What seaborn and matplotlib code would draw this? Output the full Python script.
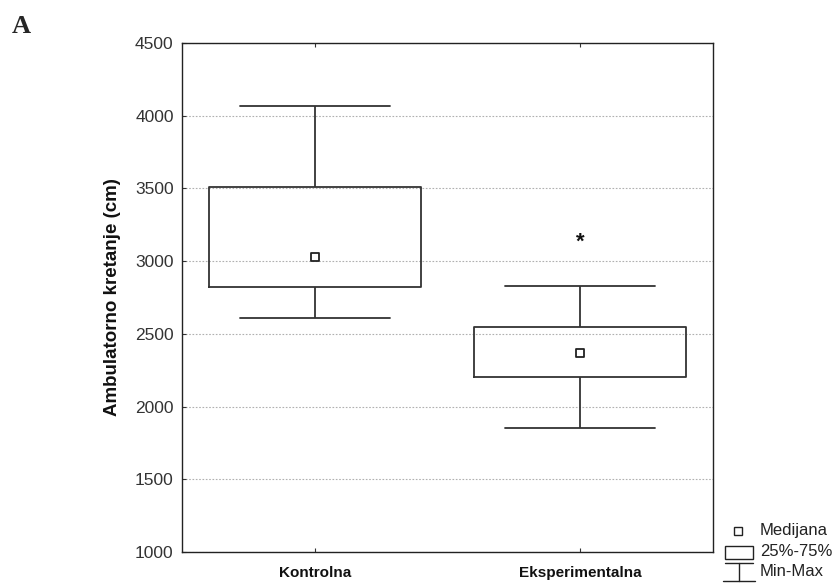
import matplotlib
matplotlib.use("Agg")
import matplotlib.pyplot as plt
from matplotlib.lines import Line2D
from matplotlib.patches import Rectangle
import seaborn as sns
import pandas as pd

# ---- data (five-number summaries) ----
categories = ["Kontrolna", "Eksperimentalna"]
minimum = [2610, 1850]
q1 = [2820, 2200]
median = [3030, 2370]
q3 = [3510, 2545]
maximum = [4065, 2830]
y_ticks = [1000, 1500, 2000, 2500, 3000, 3500, 4000, 4500]
star_group = "Eksperimentalna"
star_value = 3130

rows = []
for i, c in enumerate(categories):
    for v in (minimum[i], q1[i], median[i], q3[i], maximum[i]):
        rows.append({"grupa": c, "vrijednost": v})
df = pd.DataFrame(rows)
med_df = pd.DataFrame({"grupa": categories, "vrijednost": median})

sns.set_theme(style="white")
plt.rcParams["font.family"] = ["Liberation Sans", "DejaVu Sans"]

fig = plt.figure(figsize=(8.36, 5.85), dpi=100)
ax = fig.add_axes([182 / 836, 33 / 585, 531 / 836, 509 / 585])

sns.boxplot(data=df, x="grupa", y="vrijednost", order=categories, whis=(0, 100),
            width=0.8, fill=False, color="#333333", linewidth=1.3,
            showfliers=False, ax=ax,
            medianprops=dict(linewidth=0, alpha=0))
# cap widths
for ln in ax.lines:
    xd = list(ln.get_xdata())
    yd = list(ln.get_ydata())
    if len(xd) == 2 and yd[0] == yd[1] and abs(abs(xd[1] - xd[0]) - 0.4) < 0.01:
        c = (xd[0] + xd[1]) / 2
        ln.set_xdata([c - 0.283, c + 0.283])

sns.scatterplot(data=med_df, x="grupa", y="vrijednost", marker="s", s=36,
                facecolor="white", edgecolor="#222222", linewidth=1.3,
                ax=ax, zorder=5, legend=False)

ax.set_xlim(-0.5, 1.5)
ax.set_ylim(1000, 4500)
ax.set_yticks(y_ticks)
ax.set_yticklabels([str(t) for t in y_ticks], fontsize=12.5, color="#333333")
ax.set_xticks(range(len(categories)))
ax.set_xticklabels(categories, fontsize=11, fontweight="bold", color="#111111")
ax.set_xlabel("")
ax.set_ylabel("Ambulatorno kretanje (cm)", fontsize=13.5, fontweight="bold",
              color="#111111", labelpad=10)
ax.yaxis.grid(True, linestyle=(0, (1.5, 1.5)), color="#b0b0b0", linewidth=0.8)
ax.set_axisbelow(True)
ax.tick_params(axis="y", direction="in", length=3, width=0.8, color="#333333",
               left=True, right=False, pad=6)
ax.tick_params(axis="x", direction="in", length=3, width=0.8, color="#333333",
               top=True, bottom=True, pad=10)
for s in ax.spines.values():
    s.set_visible(True)
    s.set_color("#222222")
    s.set_linewidth(1.0)

ax.text(categories.index(star_group), star_value, "*", ha="center", va="center",
        fontsize=16, fontweight="bold", color="#111111")

# panel label
fig.text(12 / 836, 1 - 33 / 585, "A", fontsize=19, fontweight="bold",
         family=["Liberation Serif", "DejaVu Serif"], va="baseline", ha="left")

# legend (drawn in figure pixel coordinates)
def fx(x):
    return x / 836

def fy(y):
    return 1 - y / 585

fig.add_artist(Line2D([fx(738)], [fy(531)], marker="s", markersize=5.5,
                      markerfacecolor="white", markeredgecolor="#222222",
                      markeredgewidth=1.0, linestyle="none"))
fig.add_artist(Rectangle((fx(725), fy(559)), fx(753) - fx(725), fy(546) - fy(559),
                         facecolor="white", edgecolor="#222222", linewidth=1.0))
fig.add_artist(Line2D([fx(725), fx(753)], [fy(563), fy(563)], color="#222222", linewidth=1.0))
fig.add_artist(Line2D([fx(739), fx(739)], [fy(563), fy(581)], color="#222222", linewidth=1.0))
fig.add_artist(Line2D([fx(723), fx(755)], [fy(581), fy(581)], color="#222222", linewidth=1.0))
for txt, yy in (("Medijana", 531), ("25%-75%", 552), ("Min-Max", 572)):
    fig.text(fx(760), fy(yy), txt, fontsize=12, color="#222222", va="center", ha="left")

fig.savefig("out.png", dpi=100, facecolor="white")
